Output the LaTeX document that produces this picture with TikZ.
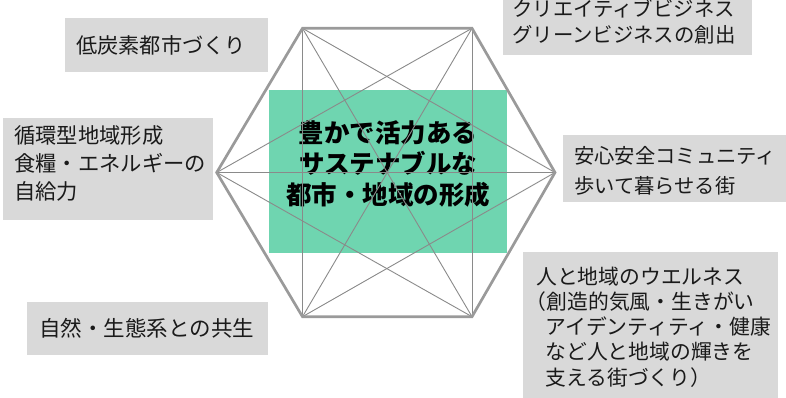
\documentclass[tikz,border=0pt]{standalone}
\usepackage{fontspec}
\newfontfamily\cjk{Noto Sans CJK JP}
\newcommand\cjkstrut{\rule[-0.12em]{0pt}{1em}}
\definecolor{boxgray}{HTML}{D9D9D9}
\definecolor{hexgreen}{HTML}{6FD5B0}
\definecolor{hexline}{HTML}{9A9A9A}
\definecolor{diagline}{HTML}{8A8A8A}
\definecolor{textdark}{HTML}{1A1A1A}
\begin{document}
\begin{tikzpicture}[x=1pt,y=-1pt,
  infobox/.style={fill=boxgray, anchor=north west, align=left, text=textdark},
  hexside/.style={draw=hexline, line width=2.7pt, line join=miter},
  hexdiag/.style={draw=diagline, line width=0.9pt},
  corebox/.style={anchor=north west, align=center, text=black},
  corefill/.style={fill=hexgreen}]
\useasboundingbox (0,0) rectangle (786,398);
% green core area
\fill[corefill] (269,90) rectangle (507,253);
% core text
\node[corebox, font={\cjk\bfseries\fontsize{25.5}{31}\selectfont},
  inner xsep=10pt, inner ysep=30.12pt, text width=218pt, text depth=80.32pt]
  (core) at (269,90) {\cjkstrut 豊かで活力ある\\サステナブルな\\都市・地域の形成};
% hexagon vertices
\coordinate (L)  at (216.7,172.5);
\coordinate (TL) at (302.5,28.3);
\coordinate (TR) at (472,28.3);
\coordinate (R)  at (555,172.5);
\coordinate (BR) at (472,316.7);
\coordinate (BL) at (302.5,316.7);
% diagonals
\draw[hexdiag] (L) -- (TR);
\draw[hexdiag] (L) -- (R);
\draw[hexdiag] (L) -- (BR);
\draw[hexdiag] (TL) -- (R);
\draw[hexdiag] (TL) -- (BR);
\draw[hexdiag] (TL) -- (BL);
\draw[hexdiag] (TR) -- (BR);
\draw[hexdiag] (TR) -- (BL);
\draw[hexdiag] (R) -- (BL);
% sides
\draw[hexside] (L) -- (TL) -- (TR) -- (R) -- (BR) -- (BL) -- cycle;
% surrounding boxes
\node[infobox, font={\cjk\fontsize{21.2}{26}\selectfont},
  inner xsep=11pt, inner ysep=16.3pt, text width=181pt, text depth=2.75pt]
  (b1) at (65,18) {\cjkstrut 低炭素都市づくり};
\node[infobox, font={\cjk\fontsize{20.4}{26.2}\selectfont},
  inner xsep=9pt, inner ysep=18.55pt, text width=231pt, text depth=19.95pt]
  (b2) at (503,-20) {\cjkstrut クリエイティブビジネス\\グリーンビジネスの創出};
\node[infobox, font={\cjk\fontsize{21.3}{27.9}\selectfont},
  inner xsep=11pt, inner ysep=6.26pt, text width=188pt, text depth=70.74pt]
  (b3) at (3,118) {\cjkstrut 循環型地域形成\\食糧・エネルギーの\\自給力};
\node[infobox, font={\cjk\fontsize{20.3}{29.5}\selectfont},
  inner xsep=11pt, inner ysep=10.74pt, text width=215pt, text depth=27.66pt]
  (b4) at (563,135) {\cjkstrut 安心安全コミュニティ\\歩いて暮らせる街};
\node[infobox, font={\cjk\fontsize{20.8}{25.3}\selectfont},
  inner xsep=13pt, inner ysep=13.5pt, text width=229pt, text depth=122.7pt]
  (b5) at (523,252) {\cjkstrut 人と地域のウエルネス\\\hspace*{-0.5em}（創造的気風・生きがい\\\hspace*{0.45em}アイデンティティ・健康\\\hspace*{0.45em}など人と地域の輝きを\\\hspace*{0.45em}支える街づくり）};
\node[infobox, font={\cjk\fontsize{21.5}{26}\selectfont},
  inner xsep=12pt, inner ysep=15.14pt, text width=217pt, text depth=3.8pt]
  (b6) at (27,302) {\cjkstrut 自然・生態系との共生};
\end{tikzpicture}
\end{document}
